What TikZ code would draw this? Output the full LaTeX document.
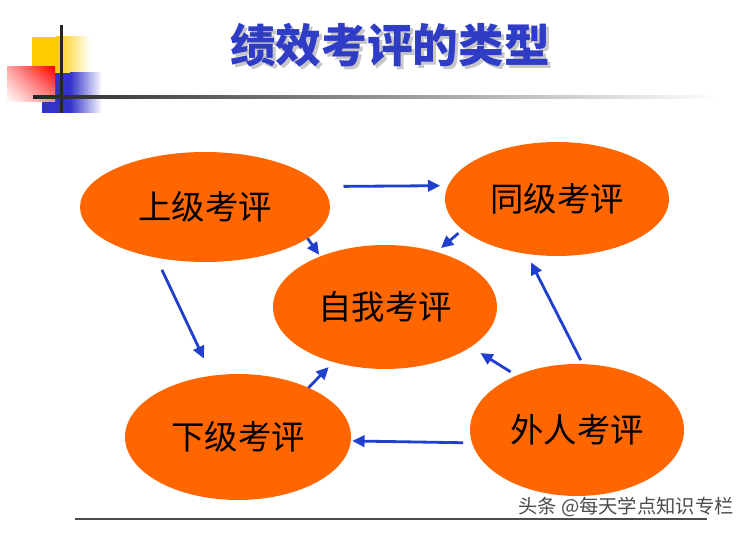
\documentclass[tikz,border=0pt]{standalone}
\usepackage{fontspec}
\newfontfamily\cjk{Noto Sans CJK SC}
\usetikzlibrary{arrows.meta,shapes.geometric,shadings}
\definecolor{evalorange}{HTML}{FF6600}
\definecolor{arrowblue}{HTML}{1F3FCC}
\definecolor{titleblue}{HTML}{2F3CC6}
\definecolor{decoyellow}{HTML}{FFCC00}
\definecolor{decoblue}{HTML}{3333CC}

\begin{document}
\begin{tikzpicture}[x=0.02cm, y=-0.02cm,
    evalnode/.style={ellipse, fill=evalorange, inner sep=0pt, outer sep=0pt, font=\cjk\fontsize{19}{22}\selectfont},
    evalarrow/.style={draw=arrowblue, line width=1.6pt, -{Triangle[length=7pt,width=6.5pt]}},
    titletext/.style={font=\cjk\bfseries\fontsize{26}{30}\selectfont}
]
    \useasboundingbox (0,0) rectangle (750,533);

    % Corner decoration
    \fill[decoyellow] (32,37) rectangle (56,73);
    \shade[left color=decoyellow, right color=white] (56,37) rectangle (90,73);
    \fill[decoblue] (42,73) rectangle (70,113);
    \shade[left color=decoblue, right color=white] (70,73) rectangle (102,113);
    \shade[upper right=red, upper left=red!35, lower right=red!45, lower left=white] (7,67) rectangle (55,102);
    \fill[black!85] (60,25) rectangle (62.5,113);
    \shade[left color=black!85, right color=white] (33,95.5) rectangle (720,98.5);

    % Title
    \node[titletext, text=black!22] (titleshadow) at (393,48) {绩效考评的类型};
    \node[titletext, text=titleblue] (title) at (390,45) {绩效考评的类型};

    % Ellipses
    \node[evalnode, minimum width=5cm, minimum height=2.2cm] (upper) at (205,207) {上级考评};
    \node[evalnode, minimum width=4.48cm, minimum height=2.28cm] (peer) at (557,199) {同级考评};
    \node[evalnode, minimum width=4.48cm, minimum height=2.48cm] (self) at (385,307) {自我考评};
    \node[evalnode, minimum width=4.52cm, minimum height=2.52cm] (lower) at (238,437) {下级考评};
    \node[evalnode, minimum width=4.28cm, minimum height=2.64cm] (outside) at (577,430) {外人考评};

    % Arrows
    \draw[evalarrow, shorten <=0.45cm, shorten >=0.16cm] (upper.10.3) -- (peer.173.2);
    \draw[evalarrow, shorten >=0.04cm] (upper.-17.8) -- (self.142.6);
    \draw[evalarrow, shorten <=0.11cm, shorten >=0.12cm] (peer.-162.2) -- (self.47.6);
    \draw[evalarrow, shorten <=0.27cm, shorten >=0.38cm] (upper.226.8) -- (lower.113.7);
    \draw[evalarrow, shorten >=0.14cm] (lower.35.5) -- (self.-133.4);
    \draw[evalarrow, shorten <=0.14cm, shorten >=0.23cm] (outside.138.4) -- (self.-25);
    \draw[evalarrow, shorten <=0.09cm, shorten >=0.19cm] (outside.85.7) -- (peer.-119.7);
    \draw[evalarrow, shorten <=0.18cm, shorten >=0.03cm] (outside.-173.5) -- (lower.-2.5);

    % Footer
    \draw[black!70, line width=0.6pt] (75,519) -- (707,519);
    \node[font=\cjk\fontsize{11}{13}\selectfont, text=black!70] (mark) at (626,507) {头条 @每天学点知识专栏};
\end{tikzpicture}
\end{document}
